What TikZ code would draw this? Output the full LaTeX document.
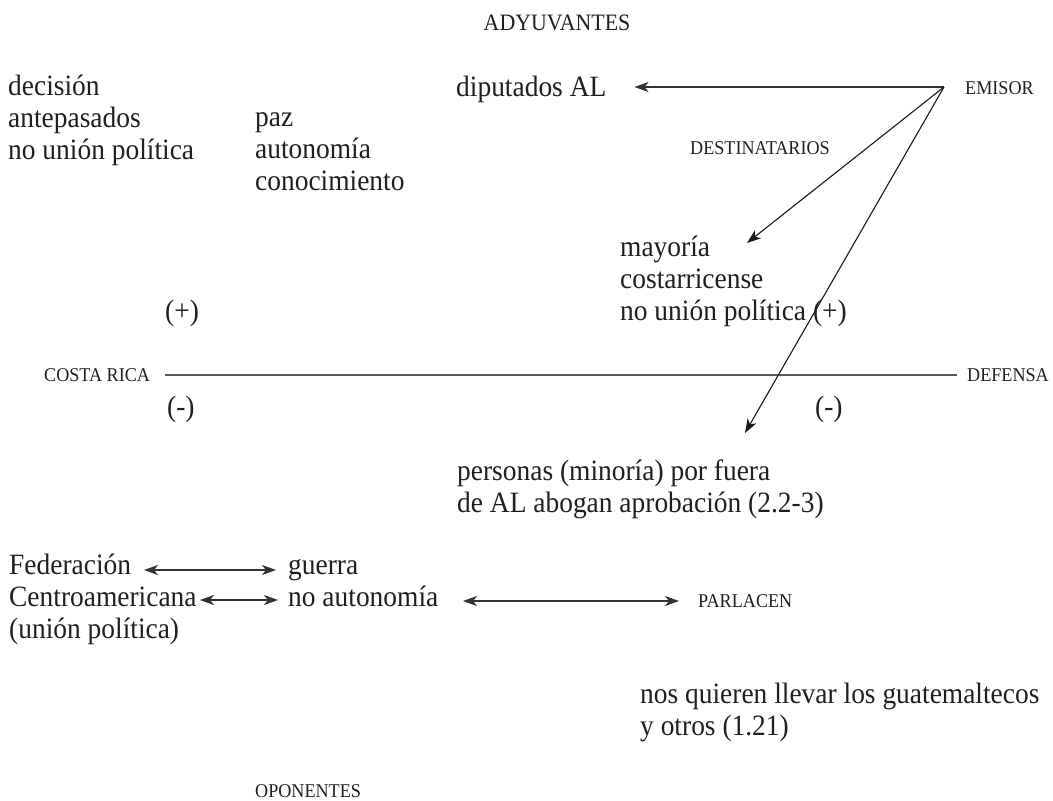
\documentclass[tikz,border=0pt]{standalone}
\usepackage{fontspec}
\setmainfont{Liberation Serif}[FakeStretch=0.93]
\usetikzlibrary{arrows.meta}
\begin{document}
\begin{tikzpicture}[x=1pt,y=-1pt,
  % multi-line nodes: "base" anchor is the baseline of the LAST line
  txt/.style={font=\fontsize{29.5}{32}\selectfont, inner sep=0pt, anchor=base west, align=left, text=black!88},
  capslbl/.style={font=\fontsize{19.5}{22}\selectfont, inner sep=0pt, anchor=base west, text=black!88},
  bigcaps/.style={capslbl, font=\fontsize{23.5}{26}\selectfont},
  arr/.style={-{Stealth[length=14pt,width=10pt,inset=4pt]}, line width=1.1pt, black!90},
  harr/.style={-{Stealth[length=14pt,width=10pt,inset=4pt]}, line width=1.6pt, black!80},
  darr/.style={{Stealth[length=14pt,width=10pt,inset=4pt]}-{Stealth[length=14pt,width=10pt,inset=4pt]}, line width=1.6pt, black!80},
  axis/.style={line width=2pt, black!65}
]
\useasboundingbox (0,0) rectangle (1053,801);

% top
\node[bigcaps, anchor=base] (ady) at (557,30) {ADYUVANTES};
\node[txt] (izq) at (8,159) {decisión\\antepasados\\no unión política};
\node[txt] (paz) at (255,190) {paz\\autonomía\\conocimiento};
\node[txt] (dip) at (456,96) {diputados AL};
\node[capslbl] (emisor) at (965,94.5) {EMISOR};
\coordinate (apex) at (944,87);
\node[capslbl] (dest) at (690,154.5) {DESTINATARIOS};
\node[txt] (may) at (620,320) {mayoría\\costarricense\\no unión política (+)};
\coordinate (maytip) at (747,243);

\draw[harr, shorten >=28pt] (apex) -- (apex -| dip.east);
\draw[arr] (apex) -- (maytip);

% axis
\node[txt] (pl) at (165,320) {(+)};
\node[capslbl] (cr) at (44,381.5) {COSTA RICA};
\node[capslbl] (def) at (967,381.5) {DEFENSA};
\draw[axis, shorten <=15pt, shorten >=10pt] (cr.east) -- (def.west);
\node[txt] (ml) at (167,416) {(-)};
\node[txt] (mr) at (815,416) {(-)};

% lower
\node[txt] (pers) at (457,512) {personas (minoría) por fuera\\de AL abogan aprobación (2.2-3)};
\coordinate (perstip) at (745,433);
\draw[arr] (apex) -- (perstip);

\node[txt] (fed) at (9,638) {Federación\\Centroamericana\\(unión política)};
\node[txt] (guerra) at (288,606) {guerra\\no autonomía};
\node[capslbl] (parl) at (698,607) {PARLACEN};
\coordinate (a1l) at (144,570);
\coordinate (a1r) at (276,570);
\coordinate (a2l) at (200,600);
\coordinate (a2r) at (278,600);
\coordinate (a3l) at (463,601);
\coordinate (a3r) at (679,601);
\draw[darr] (a1l) -- (a1r);
\draw[darr] (a2l) -- (a2r);
\draw[darr] (a3l) -- (a3r);

\node[txt] (nos) at (640,735) {nos quieren llevar los guatemaltecos\\y otros (1.21)};
\node[capslbl] (opo) at (255,797) {OPONENTES};
\end{tikzpicture}
\end{document}
